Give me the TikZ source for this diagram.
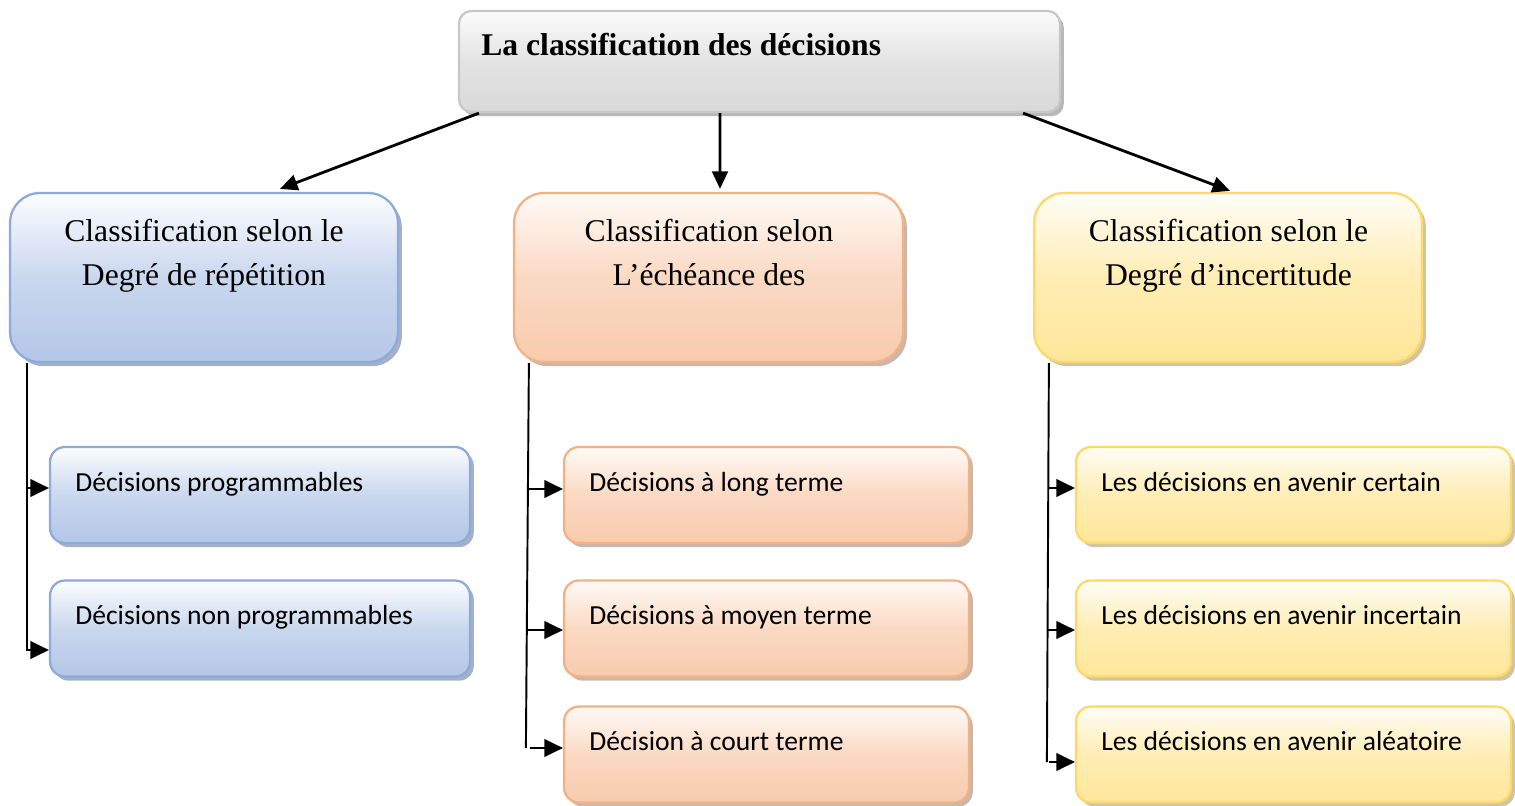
\documentclass[tikz,border=0pt]{standalone}
\usepackage{fontspec}
\setmainfont{Liberation Serif}
\newfontfamily\calib{Carlito}
\usetikzlibrary{arrows.meta,shadows,calc}
\definecolor{bluetop}{HTML}{FCFDFF}
\definecolor{bluebot}{HTML}{B4C7E7}
\definecolor{blueline}{HTML}{8EAADB}
\definecolor{bluesh}{HTML}{7F8FAA}
\definecolor{ortop}{HTML}{FFFAF6}
\definecolor{orbot}{HTML}{F8CBAD}
\definecolor{orline}{HTML}{F4B183}
\definecolor{orsh}{HTML}{B09A88}
\definecolor{yetop}{HTML}{FFFDF6}
\definecolor{yebot}{HTML}{FFE699}
\definecolor{yeline}{HTML}{FFD966}
\definecolor{yesh}{HTML}{B8AC80}
\definecolor{grtop}{HTML}{FBFBFB}
\definecolor{grbot}{HTML}{D9D9D9}
\definecolor{grline}{HTML}{C8C8C8}
\definecolor{grsh}{HTML}{9A9A9A}
\tikzset{
  basebox/.style={draw, line width=1.3pt, inner sep=0pt},
  bigbox/.style={basebox, rounded corners=17pt, minimum width=7.76cm, minimum height=3.38cm},
  smallbox/.style={basebox, rounded corners=8.5pt, minimum height=1.92cm},
  bluefill/.style={draw=blueline, top color=bluetop, bottom color=bluebot, middle color=bluebot!70!bluetop,
    drop shadow={shadow xshift=2.2pt, shadow yshift=-2.4pt, fill=bluesh, opacity=0.7}},
  orfill/.style={draw=orline, top color=ortop, bottom color=orbot, middle color=orbot!70!ortop,
    drop shadow={shadow xshift=2.2pt, shadow yshift=-2.4pt, fill=orsh, opacity=0.7}},
  yefill/.style={draw=yeline, top color=yetop, bottom color=yebot, middle color=yebot!70!yetop,
    drop shadow={shadow xshift=2.2pt, shadow yshift=-2.4pt, fill=yesh, opacity=0.7}},
  grfill/.style={draw=grline, top color=grtop, bottom color=grbot, middle color=grbot!70!grtop,
    drop shadow={shadow xshift=2.2pt, shadow yshift=-2.4pt, fill=grsh, opacity=0.7}},
  bigtext/.style={inner sep=0pt, align=center, anchor=base, font=\fontsize{18}{25}\selectfont},
  smalltext/.style={inner sep=0pt, anchor=base west, font=\calib\fontsize{15.7}{18}\selectfont},
  arr/.style={line width=1.6pt, -{Triangle[length=10pt,width=9pt]}},
  conn/.style={line width=1.1pt},
  brarr/.style={line width=1.1pt, -{Triangle[length=10.5pt,width=10pt]}}
}
\begin{document}
\begin{tikzpicture}[x=0.02cm,y=-0.02cm]
\useasboundingbox (0,0) rectangle (1515,805);
% top
\node[basebox, grfill, rounded corners=7pt, minimum width=12.02cm, minimum height=2.02cm] (top) at (759.5,61.5) {};
\node[inner sep=0pt, anchor=base west, font=\bfseries\fontsize{18}{22}\selectfont] (toptext) at (481,55) {La classification des décisions};
% level 1
\node[bigbox, bluefill] (b1) at (204,277.5) {};
\node[bigbox, orfill, minimum width=7.78cm] (o1) at (708.5,277.5) {};
\node[bigbox, yefill] (y1) at (1228,277.5) {};
\node[bigtext] (b1t) at (204,285) {Classification selon le\\Degré de répétition};
\node[bigtext] (o1t) at (709,285) {Classification selon\\L’échéance des};
\node[bigtext] (y1t) at (1228.5,285) {Classification selon le\\Degré d’incertitude};
% level 2 blue
\node[smallbox, bluefill, minimum width=8.4cm] (bc1) at (260,495) {};
\node[smallbox, bluefill, minimum width=8.4cm] (bc2) at (260,628.5) {};
% level 2 orange
\node[smallbox, orfill, minimum width=8.1cm] (oc1) at (766.5,495) {};
\node[smallbox, orfill, minimum width=8.1cm] (oc2) at (766.5,628.5) {};
\node[smallbox, orfill, minimum width=8.1cm] (oc3) at (766.5,754.5) {};
% level 2 yellow
\node[smallbox, yefill, minimum width=8.7cm] (yc1) at (1293.5,495) {};
\node[smallbox, yefill, minimum width=8.7cm] (yc2) at (1293.5,628.5) {};
\node[smallbox, yefill, minimum width=8.7cm] (yc3) at (1293.5,754.5) {};
% texts
\node[smalltext] (bc1t) at (75,491) {Décisions programmables};
\node[smalltext] (bc2t) at (75,624) {Décisions non programmables};
\node[smalltext] (oc1t) at (589,491) {Décisions à long terme};
\node[smalltext] (oc2t) at (589,624) {Décisions à moyen terme};
\node[smalltext] (oc3t) at (589,750) {Décision à court terme};
\node[smalltext] (yc1t) at (1101,491) {Les décisions en avenir certain};
\node[smalltext] (yc2t) at (1101,624) {Les décisions en avenir incertain};
\node[smalltext] (yc3t) at (1101,750) {Les décisions en avenir aléatoire};
% top arrows
\draw[arr] ($(top.south west)+(21,0)$) -- ($(b1.north)+(76,-3)$);
\draw[arr] ($(top.south)+(-39.5,0)$) -- ($(o1.north)+(11.5,-3)$);
\draw[arr] ($(top.south east)+(-38,0)$) -- ($(y1.north)+(2,-1)$);
% blue branch
\draw[conn] ($(b1.south west)+(18,0)$) |- ($(bc2.west)+(-2,21.5)$);
\draw[brarr] ($(bc2.west)+(-2,21.5)$) -- ($(bc2.west)+(0,21.5)$);
\draw[brarr] ($(bc1.west)+(-22,-7)$) -- ($(bc1.west)+(0,-7)$);
% orange branch
\draw[conn] ($(o1.south west)+(16,0)$) -- ($(oc3.west)+(-37,-6.5)$);
\draw[brarr] ($(oc1.west)+(-35,-6)$) -- ($(oc1.west)+(0,-6)$);
\draw[brarr] ($(oc2.west)+(-36,1.5)$) -- ($(oc2.west)+(0,1.5)$);
\draw[brarr] ($(oc3.west)+(-33,-6.5)$) -- ($(oc3.west)+(0,-6.5)$);
% yellow branch
\draw[conn] ($(y1.south west)+(16,0)$) -- ($(yc3.west)+(-28,7.5)$);
\draw[brarr] ($(yc1.west)+(-27,-7)$) -- ($(yc1.west)+(0,-7)$);
\draw[brarr] ($(yc2.west)+(-28,1.5)$) -- ($(yc2.west)+(0,1.5)$);
\draw[brarr] ($(yc3.west)+(-26,7.5)$) -- ($(yc3.west)+(0,7.5)$);
\end{tikzpicture}
\end{document}
